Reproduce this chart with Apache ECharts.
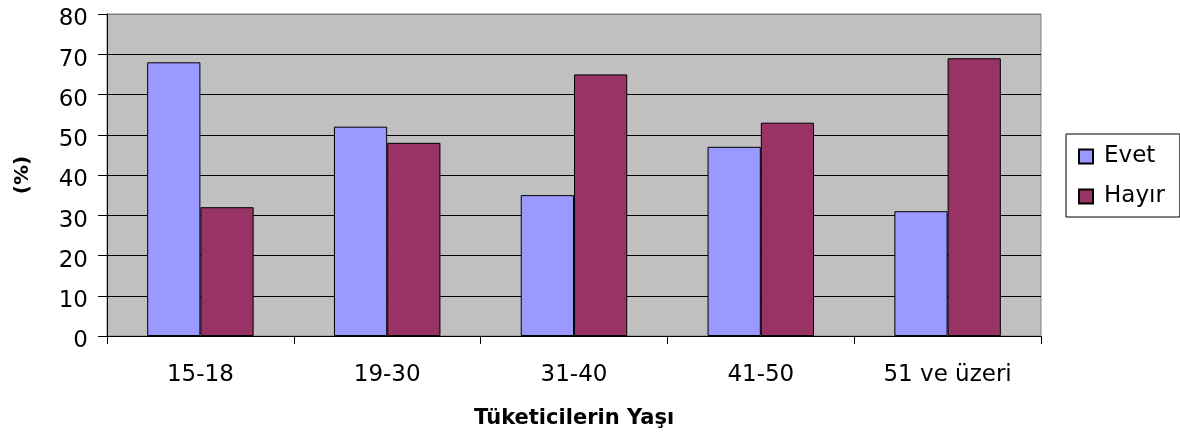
<!DOCTYPE html>
<html>
<head>
<meta charset="utf-8">
<script src="https://cdn.jsdelivr.net/npm/echarts@6/dist/echarts.min.js"></script>
<style>
  html, body { margin: 0; padding: 0; background: #fff; }
  #chart { width: 1180px; height: 435px; }
</style>
</head>
<body>
<div id="chart"></div>
<script>
// kategoriler ve seriler
var categories = ['15-18', '19-30', '31-40', '41-50', '51 ve üzeri'];
var evet = [68, 52, 35, 47, 31];
var hayir = [32, 48, 65, 53, 69];
var yTicks = { min: 0, max: 80, interval: 10 };

var chart = echarts.init(document.getElementById('chart'));

var font = 'DejaVu Sans';

// 80 çizgisi çerçeve rengi (gri), diğerleri siyah
var gridColors = ['#000', '#000', '#000', '#000', '#000', '#000', '#000', '#000', '#808080'];

var option = {
  backgroundColor: '#ffffff',
  animation: false,
  textStyle: { fontFamily: font, color: '#000' },
  grid: {
    left: 107, top: 14, right: 139, bottom: 99,
    show: true,
    backgroundColor: '#c0c0c0',
    borderColor: '#808080',
    borderWidth: 1
  },
  legend: {
    orient: 'vertical',
    left: 1066,
    top: 134,
    padding: [11, 15, 9, 12],
    itemGap: 17,
    itemWidth: 14,
    itemHeight: 14,
    icon: 'rect',
    borderColor: '#000',
    borderWidth: 1,
    textStyle: { fontFamily: font, fontSize: 23, color: '#000', padding: [0, 0, 0, 6] },
    data: ['Evet', 'Hayır']
  },
  xAxis: {
    type: 'category',
    data: categories,
    name: 'Tüketicilerin Yaşı',
    nameLocation: 'middle',
    nameGap: 72,
    nameTextStyle: { fontFamily: font, fontWeight: 'bold', fontSize: 21, color: '#000' },
    axisLine: { lineStyle: { color: '#000', width: 1 } },
    axisTick: { show: true, length: 8, lineStyle: { color: '#000' } },
    axisLabel: { margin: 28, fontSize: 23, color: '#000', fontFamily: font }
  },
  yAxis: {
    type: 'value',
    min: yTicks.min,
    max: yTicks.max,
    interval: yTicks.interval,
    name: '(%)',
    nameLocation: 'middle',
    nameGap: 74,
    nameRotate: 90,
    nameTextStyle: { fontFamily: font, fontWeight: 'bold', fontSize: 20, color: '#000' },
    axisLine: { show: true, lineStyle: { color: '#000', width: 1 } },
    axisTick: { show: true, length: 9, lineStyle: { color: '#000' } },
    axisLabel: { margin: 19, fontSize: 23, color: '#000', fontFamily: font, verticalAlign: 'top', lineHeight: 11 },
    splitLine: { show: true, lineStyle: { color: gridColors, width: 1 } }
  },
  series: [
    {
      name: 'Evet',
      type: 'bar',
      data: evet,
      barGap: '0%',
      barCategoryGap: '43%',
      itemStyle: { color: '#9999ff', borderColor: '#000', borderWidth: 1 }
    },
    {
      name: 'Hayır',
      type: 'bar',
      data: hayir,
      barGap: '0%',
      barCategoryGap: '43%',
      itemStyle: { color: '#993366', borderColor: '#000', borderWidth: 1 }
    }
  ]
};

chart.setOption(option);
</script>
</body>
</html>
